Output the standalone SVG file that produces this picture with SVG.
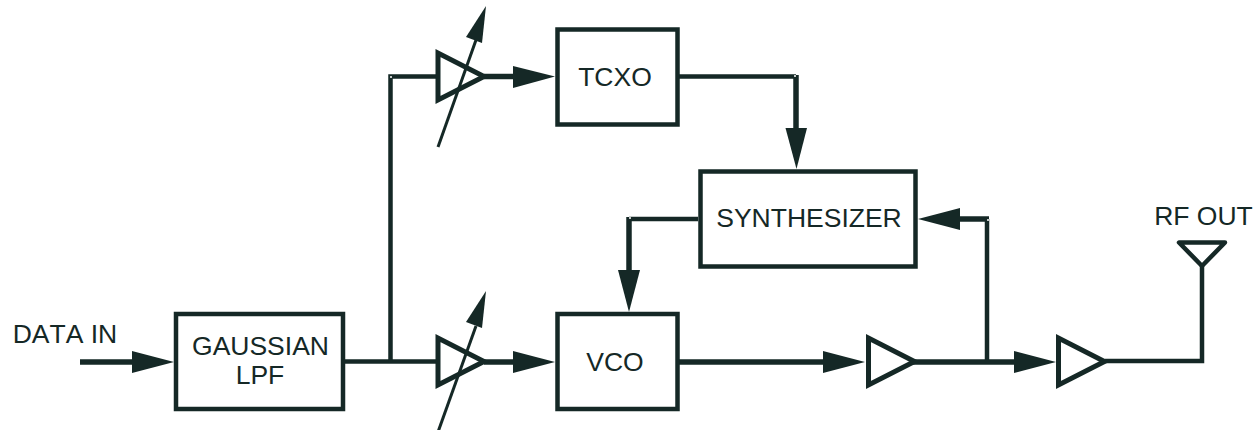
<svg xmlns="http://www.w3.org/2000/svg" width="1260" height="430" viewBox="0 0 1260 430">
<style>
.box{fill:#fff;stroke:#152826;stroke-width:4.5}
.amp{fill:#fff;stroke:#152826;stroke-width:5}
.w{fill:none;stroke:#152826;stroke-width:4.5}
.t{fill:none;stroke:#152826;stroke-width:5.5}
.h{fill:#152826;stroke:none}
.v{fill:none;stroke:#152826;stroke-width:3}
.d{fill:#fff;stroke:none}
text{font-family:"Liberation Sans",Arial,sans-serif;font-size:26.5px;font-kerning:none;fill:#152826;text-anchor:middle}
</style>
<rect width="1260" height="430" fill="#fff"/>
<g id="connectors">
<path class="t" d="M80 362H134"/><path class="h" d="M132 351L174 362L132 373Z"/>
<path class="w" d="M345 361.500H438"/>
<path class="w" d="M390.500 362V76.500H438"/>
<path class="t" d="M484 76.500H515"/><path class="h" d="M513 66L555 76.500L513 88Z"/>
<path class="t" d="M484 362H515"/><path class="h" d="M513 351L555 362L513 373Z"/>
<path class="w" d="M679 76.500H796"/><path class="t" d="M796 75V130"/><path class="h" d="M785.500 128L796.500 169L807 128Z"/>
<path class="w" d="M698 219H629"/><path class="t" d="M629 217V272"/><path class="h" d="M618 270L629 312L640 270Z"/>
<path class="t" d="M679 362H825"/><path class="h" d="M823 351L865 362L823 373Z"/>
<path class="t" d="M912 362H1016"/><path class="h" d="M1014 351L1056 362L1014 373Z"/>
<path class="w" d="M987 362V219"/><path class="t" d="M989 219H958"/><path class="h" d="M960 208L918 219L960 230Z"/>
<path class="w" d="M1105 361H1202V266"/>
<circle class="d" cx="391" cy="77" r="1"/><circle class="d" cx="795" cy="76" r="1"/><circle class="d" cx="630" cy="218" r="1"/><circle class="d" cx="988" cy="220" r="1"/>
</g>
<g id="data-in"><text x="65" y="343">DATA IN</text></g>
<g id="gaussian-lpf"><rect class="box" x="176" y="314" width="167" height="95"/><text x="260.500" y="355">GAUSSIAN</text><text x="260" y="384">LPF</text></g>
<g id="amp-top"><path class="amp" d="M438 53V100L484 76.500Z"/><path class="v" d="M438 147L476 40"/><path class="h" d="M486 6L466 37L482 43Z"/></g>
<g id="amp-bottom"><path class="amp" d="M438 338V385L484 361.500Z"/><path class="v" d="M438 432L476 326"/><path class="h" d="M486 291L466 322L482 328Z"/></g>
<g id="tcxo"><rect class="box" x="557.500" y="29.500" width="120" height="95"/><text x="615" y="86">TCXO</text></g>
<g id="vco"><rect class="box" x="557.500" y="314" width="120" height="95"/><text x="615" y="371">VCO</text></g>
<g id="synthesizer"><rect class="box" x="700.500" y="171.500" width="215" height="95"/><text x="809" y="227">SYNTHESIZER</text></g>
<g id="amp-2"><path class="amp" d="M868.500 338V385L914.500 361.500Z"/></g>
<g id="amp-3"><path class="amp" d="M1058.500 338V385L1104.500 361.500Z"/></g>
<g id="rf-out"><path class="w" d="M1179 242.500H1225L1202 266Z" stroke-linejoin="round"/><text x="1203.500" y="225">RF OUT</text></g>
</svg>
